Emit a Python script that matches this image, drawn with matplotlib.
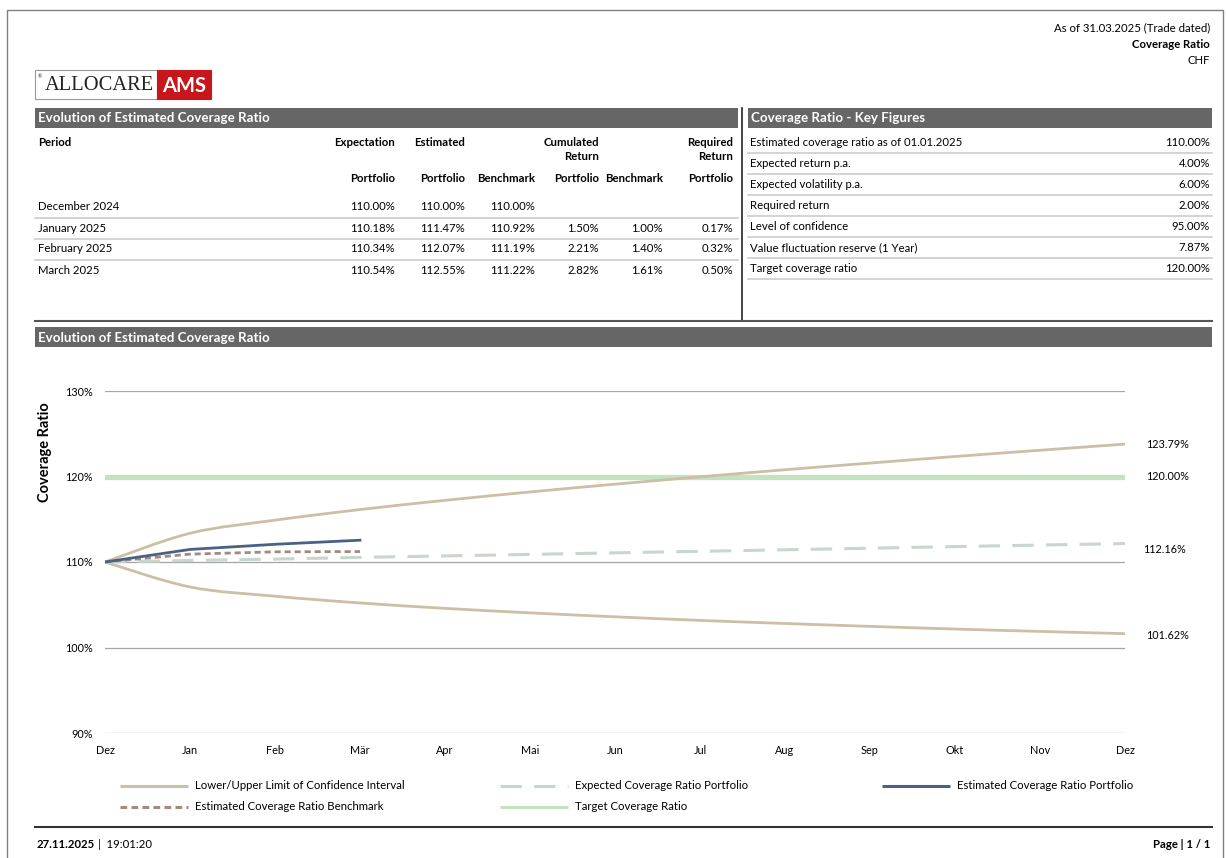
import matplotlib
matplotlib.use("Agg")
import matplotlib.pyplot as plt
from matplotlib.patches import Rectangle, PathPatch
from matplotlib.path import Path

plt.rcParams['font.family'] = ['Lato', 'DejaVu Sans']

# ---- data ----
months = ['Dez', 'Jan', 'Feb', 'Mär', 'Apr', 'Mai', 'Jun', 'Jul', 'Aug', 'Sep', 'Okt', 'Nov', 'Dez']
upper = [110.00, 113.36, 114.89, 116.13, 117.21, 118.19, 119.10, 119.96, 120.79, 121.57, 122.34, 123.07, 123.79]
lower = [110.00, 107.08, 106.00, 105.21, 104.58, 104.05, 103.59, 103.17, 102.81, 102.47, 102.16, 101.88, 101.62]
expected = [110.00, 110.18, 110.34, 110.54, 110.71, 110.89, 111.07, 111.25, 111.43, 111.61, 111.80, 111.98, 112.16]
est_portfolio = [110.00, 111.47, 112.07, 112.55]
est_benchmark = [110.00, 110.92, 111.19, 111.22]
target = [120.00] * 13
yticks = [90, 100, 110, 120, 130]

periods = ['December 2024', 'January 2025', 'February 2025', 'March 2025']
tbl_exp_pf = ['110.00%', '110.18%', '110.34%', '110.54%']
tbl_est_pf = ['110.00%', '111.47%', '112.07%', '112.55%']
tbl_est_bm = ['110.00%', '110.92%', '111.19%', '111.22%']
tbl_cum_pf = ['', '1.50%', '2.21%', '2.82%']
tbl_cum_bm = ['', '1.00%', '1.40%', '1.61%']
tbl_req_pf = ['', '0.17%', '0.32%', '0.50%']

key_labels = ['Estimated coverage ratio as of 01.01.2025', 'Expected return p.a.',
              'Expected volatility p.a.', 'Required return', 'Level of confidence',
              'Value fluctuation reserve (1 Year)', 'Target coverage ratio']
key_values = ['110.00%', '4.00%', '6.00%', '2.00%', '95.00%', '7.87%', '120.00%']

# colours
c_tan = '#cdbfa6'
c_blue = '#4b6184'
c_brown = '#a28a7e'
c_exp = '#c9d6cd'
c_green = '#c2e3bd'
c_bar = '#666666'
c_sep = '#cccccc'

W, H = 1227, 858
fig = plt.figure(figsize=(W / 100, H / 100), dpi=100)

# page layer in pixel coords
pg = fig.add_axes([0, 0, 1, 1])
pg.set_xlim(0, W)
pg.set_ylim(H, 0)
pg.axis('off')

pg.add_patch(Rectangle((7, 10), 1216, 900, fill=False, ec='#808080', lw=1))

fs = 8.2
pg.text(1210, 28, 'As of 31.03.2025 (Trade dated)', ha='right', va='center', fontsize=fs)
pg.text(1210, 44, 'Coverage Ratio', ha='right', va='center', fontsize=fs, fontweight='bold')
pg.text(1210, 61, 'CHF', ha='right', va='center', fontsize=fs)

# logo
pg.add_patch(Rectangle((35, 70), 122, 29, fc='white', ec='#999999', lw=0.8))
pg.add_patch(Rectangle((157, 70), 54, 29, fc='#c8161d', ec='#c8161d', lw=0.8))
pg.text(45, 86, 'ALLOCARE', ha='left', va='center', fontsize=14.8, family='Liberation Serif', color='#222222')
pg.text(40, 77, '®', ha='center', va='center', fontsize=3.5, color='#222222')
pg.text(184, 86, 'AMS', ha='center', va='center', fontsize=14.5, fontweight='bold', color='white')


def bar(x0, x1, y0, y1, title):
    pg.add_patch(Rectangle((x0, y0), x1 - x0, y1 - y0, fc=c_bar, ec='none'))
    pg.text(x0 + 3, (y0 + y1) / 2 + 0.5, title, ha='left', va='center', fontsize=9.6,
            fontweight='bold', color='white')


bar(35, 738, 108, 128, 'Evolution of Estimated Coverage Ratio')
bar(748, 1212, 108, 128, 'Coverage Ratio - Key Figures')
bar(35, 1212, 327, 347, 'Evolution of Estimated Coverage Ratio')

pg.plot([742, 742], [108, 321], color='#222222', lw=1.2)
pg.plot([35, 1212], [321, 321], color='#555555', lw=1.5)

# left table
cols_x = [395, 465, 535, 599, 663, 733]
pg.text(38, 142, 'Period', ha='left', va='center', fontsize=fs, fontweight='bold')
pg.text(395, 142, 'Expectation', ha='right', va='center', fontsize=fs, fontweight='bold')
pg.text(465, 142, 'Estimated', ha='right', va='center', fontsize=fs, fontweight='bold')
pg.text(599, 142, 'Cumulated', ha='right', va='center', fontsize=fs, fontweight='bold')
pg.text(599, 157, 'Return', ha='right', va='center', fontsize=fs, fontweight='bold')
pg.text(733, 142, 'Required', ha='right', va='center', fontsize=fs, fontweight='bold')
pg.text(733, 157, 'Return', ha='right', va='center', fontsize=fs, fontweight='bold')
for x, lab in zip(cols_x, ['Portfolio', 'Portfolio', 'Benchmark', 'Portfolio', 'Benchmark', 'Portfolio']):
    pg.text(x, 179, lab, ha='right', va='center', fontsize=fs, fontweight='bold')

row_y = [207, 228, 249, 270]
for i, y in enumerate(row_y):
    pg.text(38, y, periods[i], ha='left', va='center', fontsize=fs)
    vals = [tbl_exp_pf[i], tbl_est_pf[i], tbl_est_bm[i], tbl_cum_pf[i], tbl_cum_bm[i], tbl_req_pf[i]]
    for x, v in zip(cols_x, vals):
        pg.text(x, y, v, ha='right', va='center', fontsize=fs)
    if i < len(row_y) - 1:
        pg.plot([35, 738], [y + 10.5, y + 10.5], color=c_sep, lw=1.2)

# right table
for i, (lab, val) in enumerate(zip(key_labels, key_values)):
    y = 142 + i * 21.1
    pg.text(750, y, lab, ha='left', va='center', fontsize=fs)
    pg.text(1210, y, val, ha='right', va='center', fontsize=fs)
    pg.plot([748, 1212], [y + 10.5, y + 10.5], color=c_sep, lw=1.2)

# legend (drawn by hand to match layout)
leg = [
    (120, 785, 'Lower/Upper Limit of Confidence Interval', dict(color=c_tan, lw=2.2)),
    (500, 785, 'Expected Coverage Ratio Portfolio', dict(color=c_exp, lw=2.2, dashes=(7, 4))),
    (882, 785, 'Estimated Coverage Ratio Portfolio', dict(color=c_blue, lw=2.2)),
    (120, 806, 'Estimated Coverage Ratio Benchmark', dict(color=c_brown, lw=2.2, dashes=(2.2, 1.4))),
    (500, 806, 'Target Coverage Ratio', dict(color=c_green, lw=2.2)),
]
for x, y, lab, st in leg:
    pg.plot([x, x + 68], [y + 0.5, y + 0.5], solid_capstyle='butt', dash_capstyle='butt', **st)
    pg.text(x + 75, y + 0.5, lab, ha='left', va='center', fontsize=fs)

# footer
pg.plot([35, 1212], [827, 827], color='#333333', lw=1.5)
pg.text(37, 845, '27.11.2025', ha='left', va='center', fontsize=fs, fontweight='bold')
pg.text(98, 845, '|  19:01:20', ha='left', va='center', fontsize=fs)
pg.text(1210, 845, 'Page | 1 / 1', ha='right', va='center', fontsize=fs, fontweight='bold')

# ---- chart ----
x0, x1, ytop, ybot = 105, 1125, 391, 733
ax = fig.add_axes([x0 / W, (H - ybot) / H, (x1 - x0) / W, (ybot - ytop) / H])
ax.patch.set_alpha(0)
ax.set_xlim(0, 12)
ax.set_ylim(90, 130)
for s in ax.spines.values():
    s.set_visible(False)
for v in yticks:
    ax.axhline(v, color='#a6a6a6', lw=0.9, zorder=1)
ax.set_yticks(yticks)
ax.set_yticklabels([f'{v}%' for v in yticks], fontsize=7.8)
ax.set_xticks(range(13))
ax.set_xticklabels(months, fontsize=7.8)
ax.tick_params(length=0)
ax.tick_params(axis='y', pad=9)
ax.tick_params(axis='x', pad=9)


def smooth_line(xs, ys, **kw):
    # smoothed line like the spreadsheet's "smoothed line" option (bezier through the points)
    pts = list(zip(xs, ys))
    verts = [pts[0]]
    codes = [Path.MOVETO]
    n = len(pts)
    for i in range(n - 1):
        p0 = pts[max(i - 1, 0)]
        p1 = pts[i]
        p2 = pts[i + 1]
        p3 = pts[min(i + 2, n - 1)]
        c1 = (p1[0] + (p2[0] - p0[0]) / 6, p1[1] + (p2[1] - p0[1]) / 6)
        c2 = (p2[0] - (p3[0] - p1[0]) / 6, p2[1] - (p3[1] - p1[1]) / 6)
        verts += [c1, c2, p2]
        codes += [Path.CURVE4] * 3
    ax.add_patch(PathPatch(Path(verts, codes), fill=False, capstyle='butt', **kw))


xs = list(range(13))
ax.plot(xs, target, color=c_green, lw=3.8, solid_capstyle='round', zorder=2)
smooth_line(xs, upper, ec=c_tan, lw=2.0, zorder=3)
smooth_line(xs, lower, ec=c_tan, lw=2.0, zorder=3)
smooth_line(xs, expected, ec=c_exp, lw=2.2, linestyle=(0, (7, 4)), zorder=3)
ax.plot(xs[:len(est_benchmark)], est_benchmark, color=c_brown, lw=2.0, dashes=(2.2, 1.4), zorder=4)
ax.plot(xs[:len(est_portfolio)], est_portfolio, color=c_blue, lw=2.0, zorder=5)

for val, dy, dx in [(upper[-1], 0, 15), (target[-1], 0, 15), (expected[-1], -4, 13), (lower[-1], -1, 15)]:
    ax.annotate(f'{val:.2f}%', xy=(12, val), xytext=(dx, dy), textcoords='offset points',
                ha='left', va='center', fontsize=7.8, annotation_clip=False)

pg.text(45, 452, 'Coverage Ratio', rotation=90, ha='center', va='center', fontsize=10.5, fontweight='bold')

fig.savefig('out.png', dpi=100)
